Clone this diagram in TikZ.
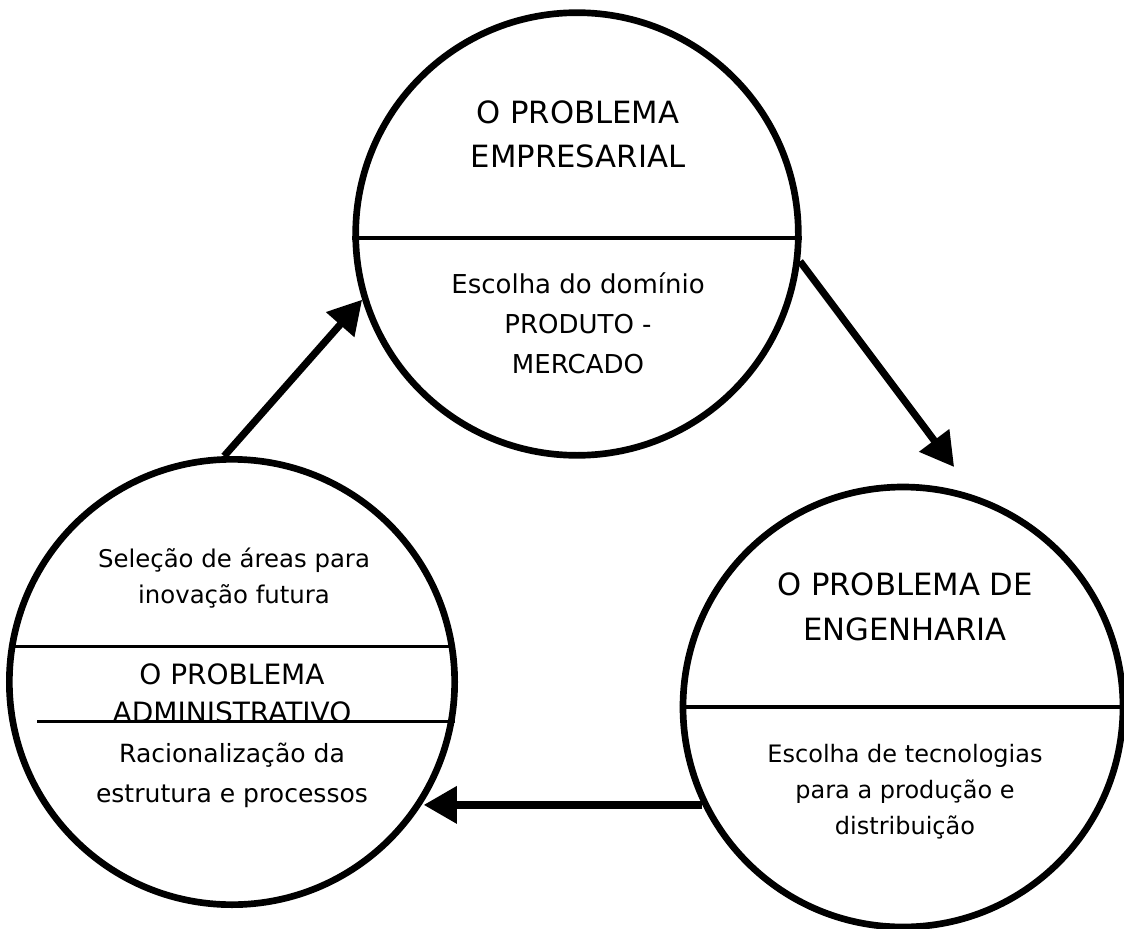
\documentclass[tikz,border=0pt]{standalone}
\usepackage{fontspec}
\setmainfont{DejaVu Sans}
\usetikzlibrary{arrows.meta,calc}
% centred block of lines whose reference point is the first baseline
\newcommand\stacklines[1]{\vtop{\halign{\hfil##\hfil\cr#1\crcr}}}
\begin{document}
\begin{tikzpicture}[x=0.75pt,y=-0.75pt,
  ring/.style={circle,draw,line width=5pt,fill=white,inner sep=0pt},
  divider/.style={line width=2.6pt},
  flow/.style={line width=5.4pt,-{Triangle[length=25pt,width=27pt]}},
  txt/.style={anchor=base,inner sep=0pt}]
\useasboundingbox (0,0) rectangle (1124,928);

% the three circles
\node[ring,minimum size=332pt] (emp) at (577,234) {};
\node[ring,minimum size=330pt] (eng) at (903,707) {};
\node[ring,minimum size=334pt] (adm) at (232,682) {};

% texts
\node[txt,font=\fontsize{23}{33}\selectfont] (empT) at (578,123)
  {\stacklines{O PROBLEMA\cr EMPRESARIAL}};
\node[txt,font=\fontsize{19.5}{30}\selectfont] (empB) at (578,293)
  {\stacklines{Escolha do domínio\cr PRODUTO -\cr MERCADO}};
\node[txt,font=\fontsize{23}{33.75}\selectfont] (engT) at (905,595)
  {\stacklines{O PROBLEMA DE\cr ENGENHARIA}};
\node[txt,font=\fontsize{18}{27}\selectfont] (engB) at (905,762)
  {\stacklines{Escolha de tecnologias\cr para a produção e\cr distribuição}};
\node[txt,font=\fontsize{18.3}{27}\selectfont] (admT) at (234,567)
  {\stacklines{Seleção de áreas para\cr inovação futura}};
\node[txt,font=\fontsize{21}{28.5}\selectfont] (admM) at (232,684)
  {\stacklines{O PROBLEMA\cr ADMINISTRATIVO}};
\node[txt,font=\fontsize{18.8}{30}\selectfont] (admB) at (232,762)
  {\stacklines{Racionalização da\cr estrutura e processos}};

% dividing lines
\draw[divider] (emp.181) -- (emp.-1);
\draw[divider] (eng.180.5) -- (eng.-0.5);
\draw[divider] (adm.171) -- (adm.9);
\draw[divider] (adm.-10.6) -- ++(-418,0);

% the cycle of arrows
\draw[flow] (adm.92) -- (emp.197);
\draw[flow,shorten >=27pt] (emp.-7) -- (eng.71.25);
\draw[flow] (eng.206) -- (eng.206 -| adm.-32.6);
\end{tikzpicture}
\end{document}
